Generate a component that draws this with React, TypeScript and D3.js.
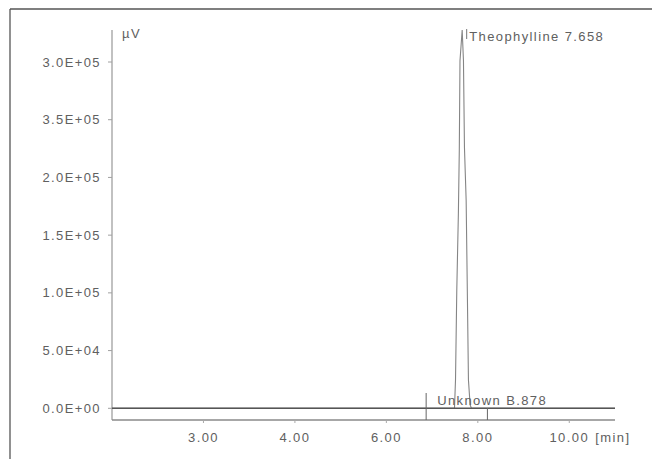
import React from 'react';
import * as d3 from 'd3';

// chromatogram trace (time in min, signal in µV)
const traceTime = [0, 7.49, 7.512, 7.54, 7.575, 7.595, 7.61, 7.658, 7.686, 7.708, 7.745, 7.773, 7.795, 7.832, 7.86, 11];
const traceSignal = [0, 0, 24500, 102500, 169000, 223600, 301000, 327700, 301000, 225700, 180000, 93800, 24500, 2900, 0, 0];

const yTickValues = [0, 50000, 100000, 150000, 200000, 250000, 300000];
const yTickLabels = ['0.0E+00', '5.0E+04', '1.0E+05', '1.5E+05', '2.0E+05', '3.5E+05', '3.0E+05'];
const xTickValues = [2, 4, 6, 8, 10];
const xTickLabels = ['3.00', '4.00', '6.00', '8.00', '10.00'];

const peakNames = ['Theophylline 7.658', 'Unknown B.878'];
const peakTimes = [7.658, 6.87];
const peakHeights = [327700, 0];
const peakEndTimes = [7.86, 8.21];

const W = 652, H = 459;
const FONT = '"Liberation Sans", Arial, sans-serif';
const TEXT = '#606060';

export default function App() {
  const x = d3.scaleLinear().domain([0, 11]).range([112, 615]);
  const y = d3.scaleLinear().domain([0, 300000]).range([408.3, 62]);
  const axisY = 420;
  const axisTop = 30;

  const pts: [number, number][] = traceTime.map((t, i) => [t, traceSignal[i]]);
  const line = d3.line<[number, number]>()
    .x(d => x(d[0]))
    .y(d => y(d[1]));

  const textStyle = { fontFamily: FONT, fontSize: 13, letterSpacing: 1.4, fill: TEXT };

  return (
    <svg width={W} height={H} style={{ position: 'absolute', left: 0, top: 0, background: '#fff' }}>
      {/* frame */}
      <line x1={10} y1={9} x2={W} y2={9} stroke="#555" strokeWidth={1.3} />
      <line x1={10} y1={9} x2={10} y2={H} stroke="#555" strokeWidth={1.3} />

      {/* y axis */}
      <line x1={x(0)} y1={axisTop} x2={x(0)} y2={axisY} stroke="#a0a0a0" strokeWidth={1.3} />
      {yTickValues.map((v, i) => (
        <g key={'yt' + i}>
          <line x1={x(0) - 4} x2={x(0)} y1={y(v)} y2={y(v)} stroke="#a0a0a0" />
          <text x={101} y={y(v) + 4.5} textAnchor="end" style={textStyle}>{yTickLabels[i]}</text>
        </g>
      ))}
      <text x={122} y={38} style={textStyle}>µV</text>

      {/* x axis */}
      <line x1={x(0)} y1={axisY} x2={x(11)} y2={axisY} stroke="#8a8a8a" strokeWidth={1.3} />
      {xTickValues.map((v, i) => (
        <g key={'xt' + i}>
          <line x1={x(v)} x2={x(v)} y1={axisY} y2={axisY + 3} stroke="#aaa" />
          <text x={x(v)} y={442} textAnchor="middle" style={textStyle}>{xTickLabels[i]}</text>
        </g>
      ))}
      <text x={x(10) + 26} y={442} style={textStyle}>[min]</text>

      {/* trace */}
      <path d={line(pts) || ''} fill="none" stroke="#858585" strokeWidth={1.1} />
      <line x1={x(0)} x2={x(11)} y1={y(0)} y2={y(0)} stroke="#555" strokeWidth={1.5} />

      {/* peak labels */}
      <line x1={x(peakTimes[0]) + 4.5} x2={x(peakTimes[0]) + 4.5} y1={y(peakHeights[0]) - 1} y2={y(peakHeights[0]) + 9} stroke="#777" />
      <text x={x(peakTimes[0]) + 7} y={41} style={textStyle}>{peakNames[0]}</text>

      <line x1={x(peakTimes[1])} x2={x(peakTimes[1])} y1={393} y2={axisY} stroke="#666" />
      <line x1={x(peakEndTimes[1])} x2={x(peakEndTimes[1])} y1={408} y2={axisY} stroke="#666" />
      <text x={x(peakTimes[1]) + 11} y={405} style={textStyle}>{peakNames[1]}</text>
    </svg>
  );
}
